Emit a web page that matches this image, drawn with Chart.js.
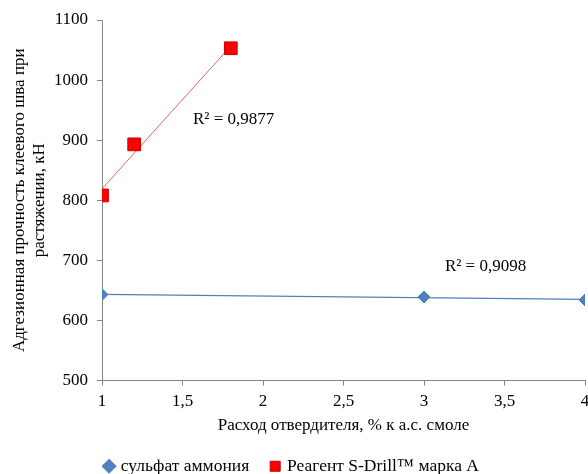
<!DOCTYPE html>
<html>
<head>
<meta charset="utf-8">
<script src="https://cdn.jsdelivr.net/npm/chart.js@4/dist/chart.umd.min.js"></script>
<style>
  body { margin: 0; background: #fff; }
  #wrap { width: 588px; height: 474px; }
</style>
</head>
<body>
<div id="wrap"><canvas id="chart" width="588" height="474"></canvas></div>
<script>
// data
var SULFATE_X = [1, 3, 4];
var SULFATE_Y = [643, 639, 634];
var SDRILL_X = [1, 1.2, 1.8];
var SDRILL_Y = [808, 893, 1053];
var SERIES_NAMES = ["сульфат аммония", "Реагент S-Drill™ марка А"];
var R2_LABELS = ["R² = 0,9098", "R² = 0,9877"];
var X_TICKS = [1, 1.5, 2, 2.5, 3, 3.5, 4];

var FONT = "'Liberation Serif', 'Times New Roman', serif";
var BLUE = "#4F81BD";
var RED = "#FF0000";

Chart.defaults.font.family = FONT;
Chart.defaults.font.size = 17;
Chart.defaults.color = "#000";

// linear trend like excel : least squares through the points, from min x to max x
function trend(xs, ys) {
  var n = xs.length, mx = 0, my = 0, sxx = 0, sxy = 0;
  for (var i = 0; i < n; i++) { mx += xs[i]; my += ys[i]; }
  mx /= n; my /= n;
  for (var j = 0; j < n; j++) {
    sxx += (xs[j] - mx) * (xs[j] - mx);
    sxy += (xs[j] - mx) * (ys[j] - my);
  }
  var k = sxy / sxx, b = my - k * mx;
  var x0 = Math.min.apply(null, xs), x1 = Math.max.apply(null, xs);
  return [{x: x0, y: k * x0 + b}, {x: x1, y: k * x1 + b}];
}

function points(xs, ys) {
  return xs.map(function(x, i) { return {x: x, y: ys[i]}; });
}

// R² labels, anchored in data units
var labelPlugin = {
  id: "r2labels",
  afterDatasetsDraw: function(chart) {
    var ctx = chart.ctx, xs = chart.scales.x, ys = chart.scales.y;
    ctx.save();
    ctx.font = "17px " + FONT;
    ctx.fillStyle = "#000";
    ctx.textAlign = "left";
    ctx.textBaseline = "middle";
    ctx.fillText(R2_LABELS[0], xs.getPixelForValue(3.13), ys.getPixelForValue(690));
    ctx.fillText(R2_LABELS[1], xs.getPixelForValue(1.565), ys.getPixelForValue(935));
    ctx.restore();
  }
};

var ctx = document.getElementById("chart").getContext("2d");
new Chart(ctx, {
  type: "scatter",
  data: {
    datasets: [
      {
        label: SERIES_NAMES[0],
        data: points(SULFATE_X, SULFATE_Y),
        pointStyle: "rectRot",
        pointRadius: 6,
        backgroundColor: BLUE,
        borderColor: BLUE,
        borderWidth: 1,
        showLine: false,
        order: 1
      },
      {
        label: SERIES_NAMES[1],
        data: points(SDRILL_X, SDRILL_Y),
        pointStyle: "rect",
        pointRadius: 9,
        backgroundColor: RED,
        borderColor: "#C00000",
        borderWidth: 1,
        showLine: false,
        order: 1
      },
      {
        label: "trend1",
        data: trend(SULFATE_X, SULFATE_Y),
        showLine: true,
        pointRadius: 0,
        borderColor: BLUE,
        borderWidth: 1.3,
        order: 2
      },
      {
        label: "trend2",
        data: trend(SDRILL_X, SDRILL_Y),
        showLine: true,
        pointRadius: 0,
        borderColor: "#E06666",
        borderWidth: 1,
        order: 2
      }
    ]
  },
  options: {
    responsive: false,
    animation: false,
    events: [],
    layout: { autoPadding: false, padding: { top: 20, right: 3, left: 0, bottom: -11 } },
    plugins: {
      tooltip: { enabled: false },
      legend: {
        position: "bottom",
        labels: {
          font: { family: FONT, size: 17.5 },
          color: "#000",
          usePointStyle: true,
          boxWidth: 6,
          boxHeight: 10,
          padding: 23,
          filter: function(item) { return item.datasetIndex < 2; }
        }
      }
    },
    scales: {
      x: {
        type: "linear",
        min: 1,
        max: 4,
        afterBuildTicks: function(scale) {
          scale.ticks = X_TICKS.map(function(v) { return {value: v}; });
        },
        afterFit: function(scale) {
          scale.height = 54;
          scale.paddingRight = 0;
          scale.paddingLeft = 0;
        },
        border: { display: true, color: "#868686", width: 1 },
        grid: { drawOnChartArea: false, drawTicks: true, tickLength: 5, color: "#868686" },
        ticks: {
          font: { family: FONT, size: 17 },
          color: "#000",
          padding: 6,
          maxRotation: 0,
          callback: function(v) { return String(v).replace(".", ","); }
        },
        title: {
          display: true,
          text: "Расход отвердителя, % к а.с. смоле",
          font: { family: FONT, size: 17 },
          color: "#000",
          padding: { top: 2, bottom: -1 }
        }
      },
      y: {
        min: 500,
        max: 1100,
        afterFit: function(scale) { scale.width = 102; },
        border: { display: true, color: "#868686", width: 1 },
        grid: { drawOnChartArea: false, drawTicks: true, tickLength: 5, color: "#868686" },
        ticks: {
          stepSize: 100,
          font: { family: FONT, size: 17 },
          color: "#000",
          padding: 9,
          callback: function(v) { return String(v); }
        },
        title: {
          display: true,
          text: ["Адгезионная прочность клеевого шва при", "растяжении, кН"],
          font: { family: FONT, size: 17, lineHeight: 1.2 },
          color: "#000",
          padding: { top: 9, bottom: 0 }
        }
      }
    }
  },
  plugins: [labelPlugin]
});
</script>
</body>
</html>
